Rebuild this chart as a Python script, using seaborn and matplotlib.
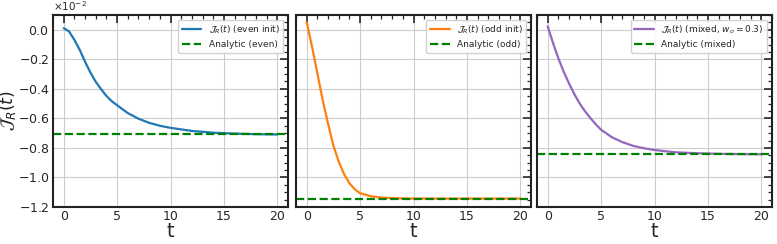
import matplotlib
matplotlib.use("Agg")
import matplotlib.pyplot as plt
from matplotlib.ticker import ScalarFormatter, AutoMinorLocator, MultipleLocator
import numpy as np
import pandas as pd
import seaborn as sns

sns.set_style("white")
plt.rcParams['font.family'] = ['DejaVu Sans']

# values (units of 1e-2 on the y axis)
t = [0, 0.5, 1, 1.5, 2, 2.5, 3, 3.5, 4, 4.5, 5, 6, 7, 8, 9, 10, 12, 14, 16, 18, 20]
j_even = [0.011, -0.011, -0.068, -0.136, -0.216, -0.289, -0.352, -0.402, -0.448, -0.484,
          -0.511, -0.564, -0.602, -0.630, -0.650, -0.664, -0.685, -0.697, -0.703, -0.707, -0.709]
j_odd = [0.052, -0.114, -0.295, -0.477, -0.636, -0.784, -0.893, -0.977, -1.039, -1.080,
         -1.107, -1.127, -1.136, -1.140, -1.142, -1.143, -1.143, -1.143, -1.143, -1.143, -1.143]
j_mixed = [0.023, -0.090, -0.193, -0.284, -0.364, -0.436, -0.500, -0.552, -0.598, -0.640,
           -0.677, -0.727, -0.761, -0.786, -0.802, -0.814, -0.830, -0.836, -0.840, -0.842, -0.843]
analytic = {"even": -0.709, "odd": -1.143, "mixed": -0.843}

labels = [r"$\mathcal{J}_R(t)$ (even init)",
          r"$\mathcal{J}_R(t)$ (odd init)",
          r"$\mathcal{J}_R(t)$ (mixed, $w_o = 0.3$)"]
keys = ["even", "odd", "mixed"]
series = [j_even, j_odd, j_mixed]
colors = ["#1f77b4", "#ff7f0e", "#9467bd"]

fig = plt.figure(figsize=(7.77, 2.44), dpi=100)
W, H = 777, 244
lefts = [53, 296, 537]
axes = []
for i, l in enumerate(lefts):
    if i == 0:
        ax = fig.add_axes([l / W, 1 - 207 / H, 235 / W, 192 / H])
    else:
        ax = fig.add_axes([l / W, 1 - 207 / H, 235 / W, 192 / H], sharey=axes[0])
    axes.append(ax)

for i, ax in enumerate(axes):
    df = pd.DataFrame({"t": t, "J": np.array(series[i]) * 1e-2})
    sns.lineplot(data=df, x="t", y="J", ax=ax, color=colors[i], lw=1.6, label=labels[i])
    ax.axhline(analytic[keys[i]] * 1e-2, color="green", ls="--", lw=1.6,
               label="Analytic (%s)" % keys[i])
    ax.set_xlim(-1, 21)
    ax.set_ylim(-0.012, 0.001)
    ax.set_xticks([0, 5, 10, 15, 20])
    ax.yaxis.set_major_locator(MultipleLocator(0.002))
    ax.xaxis.set_minor_locator(AutoMinorLocator(5))
    ax.yaxis.set_minor_locator(AutoMinorLocator(4))
    ax.grid(True, color="#cccccc", lw=0.8)
    ax.tick_params(which="both", direction="in", top=True, right=True, labelsize=9)
    ax.tick_params(which="major", length=6, width=1.2, pad=2.5)
    ax.tick_params(which="minor", length=3, width=0.9)
    for s in ax.spines.values():
        s.set_linewidth(1.5)
        s.set_color("#222222")
    ax.set_xlabel("t", fontsize=14, labelpad=-1)
    if i == 0:
        ax.set_ylabel(r"$\mathcal{J}_R(t)$", fontsize=12.5)
        ax.yaxis.set_label_coords(-0.15, 0.5)
        fmt = ScalarFormatter(useMathText=True)
        fmt.set_powerlimits((-2, -2))
        ax.yaxis.set_major_formatter(fmt)
        ax.yaxis.get_offset_text().set_fontsize(7.5)
    else:
        ax.set_ylabel("")
        ax.tick_params(labelleft=False)
    ax.legend(loc="upper right", fontsize=6.5, framealpha=0.9, borderpad=0.4,
              handlelength=2.2, labelspacing=0.5)

fig.savefig("out.png", dpi=100)
